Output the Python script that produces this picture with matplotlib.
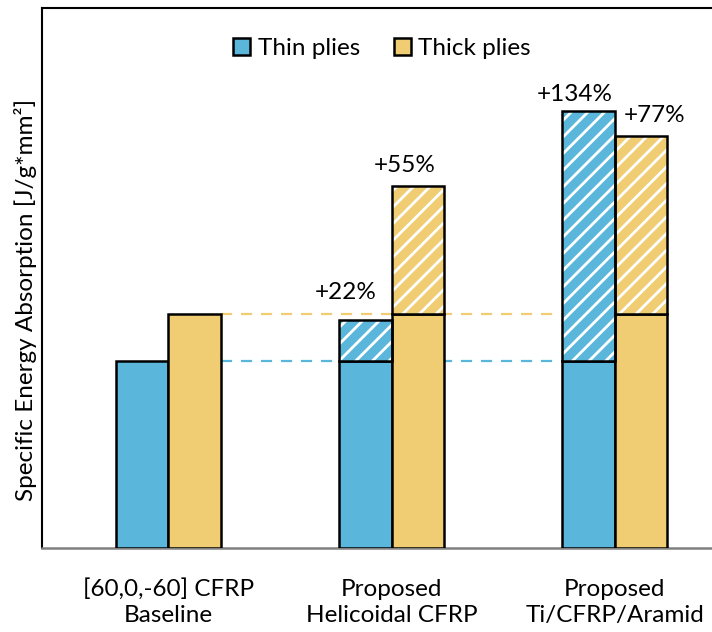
import matplotlib.pyplot as plt
import matplotlib.patches as mpatches
import numpy as np

plt.rcParams['font.family'] = ['Lato', 'DejaVu Sans']
plt.rcParams['hatch.linewidth'] = 2.0

# data (arbitrary units)
groups = ['[60,0,-60] CFRP\nBaseline', 'Proposed\nHelicoidal CFRP', 'Proposed\nTi/CFRP/Aramid']
thin = [1.87, 2.28, 4.37]
thick = [2.34, 3.62, 4.12]
thin_labels = ['', '+22%', '+134%']
thick_labels = ['', '+55%', '+77%']

blue = '#5AB7DB'
gold = '#F0CD73'
fs = 17.5

fig = plt.figure(figsize=(7.12, 6.32), dpi=100)
ax = fig.add_axes([42 / 712, 84 / 632, 680 / 712, 540 / 632])

x = np.arange(len(groups))
w = 0.235
base_thin = thin[0]
base_thick = thick[0]

# dashed reference lines
ax.plot([x[0] + w, x[2] - w], [base_thin, base_thin], ls=(0, (5, 4)), color=blue, lw=1.6, zorder=1)
ax.plot([x[0] + w, x[2] - w], [base_thick, base_thick], ls=(0, (5, 4)), color=gold, lw=1.6, zorder=1)

for xs, vals, base, col in [(x - w / 2, thin, base_thin, blue),
                            (x + w / 2, thick, base_thick, gold)]:
    ax.bar(xs, base, w, color=col, edgecolor='black', lw=1.8, zorder=3)
    extra = np.array(vals) - base
    ax.bar(xs[1:], extra[1:], w, bottom=base, color=col, edgecolor='white', hatch='//', lw=0, zorder=3)
    ax.bar(xs[1:], extra[1:], w, bottom=base, facecolor='none', edgecolor='black', lw=1.8, zorder=4)

# percentage labels
ax.text(x[1] - w / 2 - 0.09, thin[1] + 0.17, thin_labels[1], ha='center', va='bottom', fontsize=fs)
ax.text(x[1] + w / 2 - 0.06, thick[1] + 0.1, thick_labels[1], ha='center', va='bottom', fontsize=fs)
ax.text(x[2] - w / 2 - 0.06, thin[2] + 0.06, thin_labels[2], ha='center', va='bottom', fontsize=fs)
ax.text(x[2] + w / 2 + 0.06, thick[2] + 0.1, thick_labels[2], ha='center', va='bottom', fontsize=fs)

handles = [mpatches.Patch(facecolor=blue, edgecolor='black', lw=1.8, label='Thin plies'),
           mpatches.Patch(facecolor=gold, edgecolor='black', lw=1.8, label='Thick plies')]

ax.set_xlim(-0.566, 2.48)
ax.set_ylim(0, 5.4)
ax.set_xticks(x)
ax.set_xticklabels(groups, fontsize=fs, linespacing=1.3)
ax.tick_params(axis='x', length=0, pad=22)
ax.set_yticks([])
ax.set_ylabel('Specific Energy Absorption [J/g*mm²]', fontsize=fs)
ax.yaxis.set_label_coords(-0.008, 0.46)

for s in ['left', 'top', 'right']:
    ax.spines[s].set_linewidth(1.5)
    ax.spines[s].set_color('black')
ax.spines['bottom'].set_color('#808080')
ax.spines['bottom'].set_linewidth(1.8)

ax.legend(handles=handles, loc='upper center', bbox_to_anchor=(0.5, 0.985), ncol=2, frameon=False,
          fontsize=fs, handlelength=0.7, handleheight=0.7, handletextpad=0.3, columnspacing=1.4)

fig.savefig('out.png', dpi=100)
